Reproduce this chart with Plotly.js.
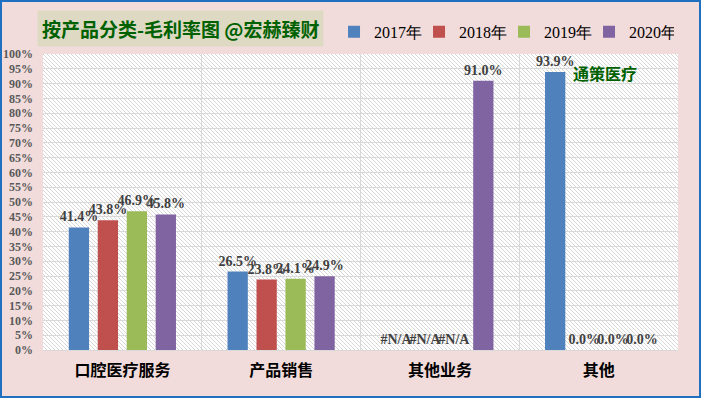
<!DOCTYPE html>
<html>
<head>
<meta charset="utf-8">
<script src="https://cdn.plot.ly/plotly-3.0.1.min.js"></script>
<style>
html,body{margin:0;padding:0;background:#F2DCDB;}
#wrap{position:relative;width:701px;height:398px;}
#chart{width:701px;height:398px;}
#frame{position:absolute;left:0;top:0;width:701px;height:398px;box-sizing:border-box;border:2px solid #1F70C1;pointer-events:none;}
</style>
</head>
<body>
<div id="wrap"><div id="chart"></div><div id="frame"></div></div>
<script>
// ---- data ----
const categories = ["口腔医疗服务", "产品销售", "其他业务", "其他"];
const seriesNames = ["2017年", "2018年", "2019年", "2020年"];
const v2017 = [0.414, 0.265, null, 0.939];
const v2018 = [0.438, 0.238, null, 0.000];
const v2019 = [0.469, 0.241, null, 0.000];
const v2020 = [0.458, 0.249, 0.910, 0.000];
const yTickVals = [0,0.05,0.1,0.15,0.2,0.25,0.3,0.35,0.4,0.45,0.5,0.55,0.6,0.65,0.7,0.75,0.8,0.85,0.9,0.95,1.0];
const yTickText = yTickVals.map(v => Math.round(v*100) + "%");
const titleText = "按产品分类-毛利率图 @宏赫臻财";
const noteText = "通策医疗";

const colors = ["#4F81BD", "#C0504D", "#9BBB59", "#8064A2"];
const allVals = [v2017, v2018, v2019, v2020];
const serif = "'Times New Roman', 'Liberation Serif', 'Noto Serif', serif";
const cjk = "'Noto Sans CJK SC', 'Noto Sans', sans-serif";

const traces = allVals.map((vals, i) => ({
  type: "bar",
  name: seriesNames[i],
  x: categories,
  y: vals.map(v => v === null ? 0 : v),
  text: vals.map(v => v === null ? "#N/A" : (v*100).toFixed(1) + "%"),
  textposition: "outside",
  constraintext: "none",
  cliponaxis: false,
  textfont: {family: serif, size: 14, color: "#404040", weight: "bold"},
  marker: {color: colors[i], line: {width: 0}},
  hoverinfo: "skip"
}));

const hatchSvg =
  "<svg xmlns='http://www.w3.org/2000/svg' width='635' height='296' viewBox='0 0 635 296' preserveAspectRatio='none'>" +
  "<defs><pattern id='p' width='4' height='4' patternUnits='userSpaceOnUse'>" +
  "<rect width='4' height='4' fill='#ffffff'/>" +
  "<path d='M-1,-1 L5,5 M-1,3 L1,5 M3,-1 L5,1' stroke='#cdcdcd' stroke-width='0.8'/>" +
  "</pattern></defs><rect width='635' height='296' fill='url(#p)'/></svg>";
const hatchUri = "data:image/svg+xml;charset=utf-8," + encodeURIComponent(hatchSvg);

const layout = {
  width: 701, height: 398,
  margin: {l: 43, r: 23, t: 54, b: 48, autoexpand: false},
  paper_bgcolor: "#F2DCDB",
  plot_bgcolor: "rgba(0,0,0,0)",
  barmode: "group",
  bargap: 0.27,
  bargroupgap: 0.3,
  showlegend: true,
  legend: {
    orientation: "h", x: 0.4583, xanchor: "left", y: 1.075, yanchor: "middle",
    font: {family: serif, size: 16, color: "#000000"},
    entrywidth: 40, entrywidthmode: "pixels",
    bgcolor: "rgba(0,0,0,0)", itemclick: false, traceorder: "normal"
  },
  xaxis: {
    type: "category",
    tickson: "boundaries",
    showgrid: true, gridcolor: "#d9d9d9", gridwidth: 1,
    ticks: "", showline: true, linecolor: "#d9d9d9", linewidth: 1,
    tickfont: {family: cjk, size: 16, color: "#000000", weight: "bold"},
    ticklabelstandoff: 6,
    automargin: false,
    fixedrange: true
  },
  yaxis: {
    range: [0, 1],
    tickvals: yTickVals, ticktext: yTickText,
    showgrid: true, gridcolor: "#d9d9d9", gridwidth: 1,
    zeroline: false, showline: false, ticks: "",
    tickfont: {family: serif, size: 12, color: "#595959", weight: "bold"},
    ticklabelstandoff: 9,
    automargin: false,
    fixedrange: true
  },
  images: [{
    source: hatchUri, xref: "paper", yref: "paper",
    x: 0, y: 1, sizex: 1, sizey: 1, xanchor: "left", yanchor: "top",
    sizing: "stretch", layer: "below"
  }],
  annotations: [
    {
      text: titleText, xref: "paper", yref: "paper",
      x: 0.216, y: 1.085, xanchor: "center", yanchor: "middle",
      showarrow: false, bgcolor: "#DDD9C3", borderpad: 4,
      font: {family: cjk, size: 19, color: "#006100", weight: "bold"}
    },
    {
      text: noteText, xref: "x", yref: "y",
      x: 3, y: 0.935, xanchor: "center", yanchor: "middle", xshift: 6,
      showarrow: false,
      font: {family: cjk, size: 16, color: "#006100", weight: "bold"}
    }
  ]
};

Plotly.newPlot("chart", traces, layout, {staticPlot: true, displayModeBar: false});
</script>
</body>
</html>
